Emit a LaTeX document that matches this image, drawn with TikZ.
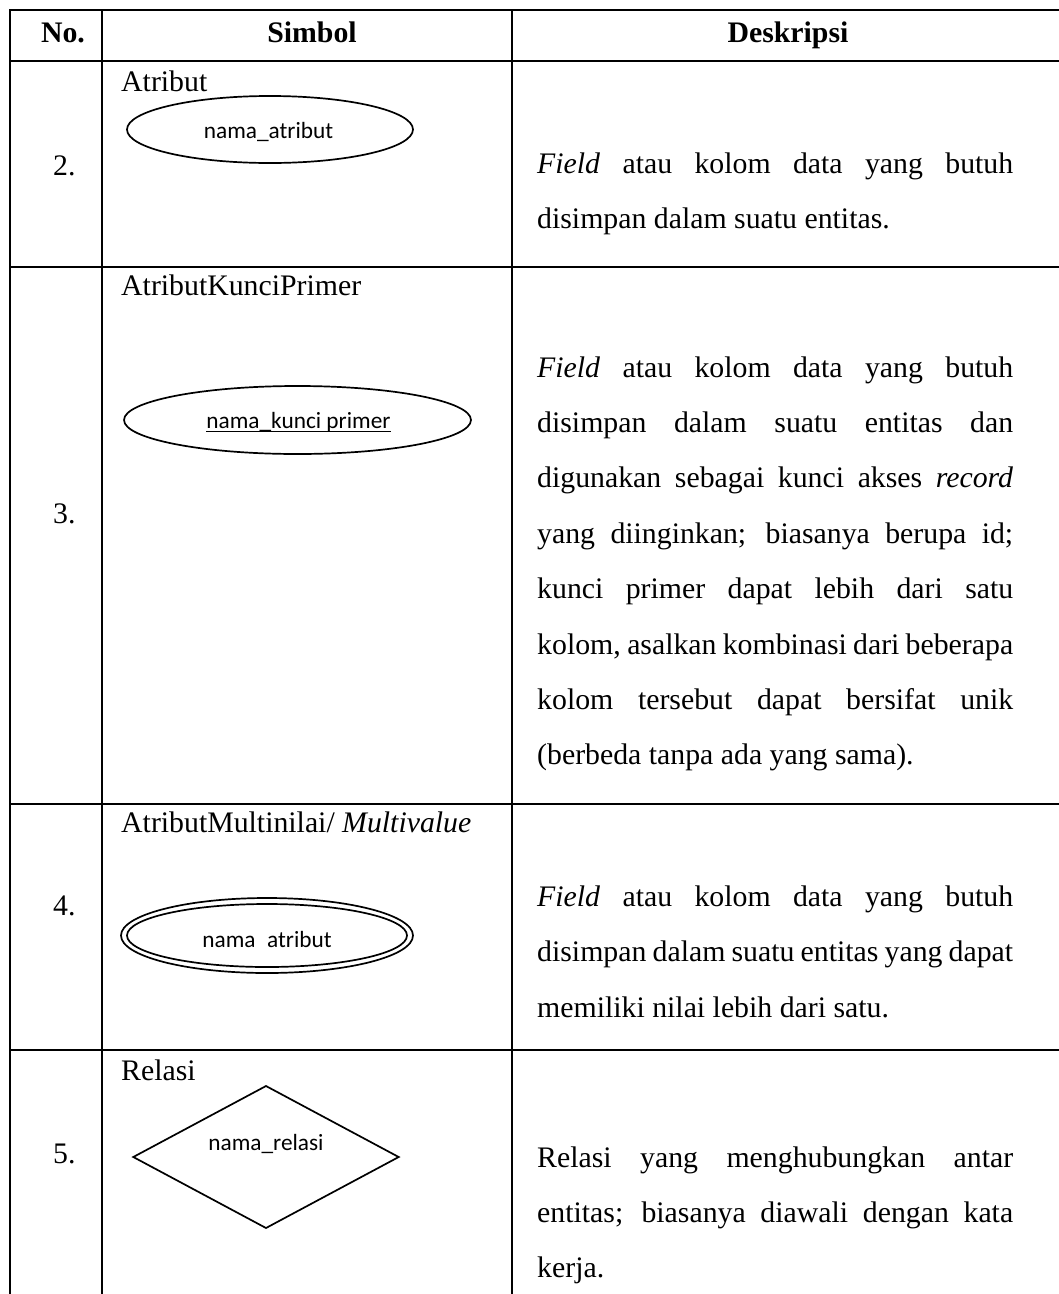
\documentclass[tikz,border=0pt]{standalone}
\usepackage{fontspec}
\setmainfont{Liberation Serif}
\newfontfamily\calib{Carlito}
\usetikzlibrary{shapes.geometric}
% one justified line of the description column
\newcommand\jl[1]{\makebox[476pt][s]{#1}}
\begin{document}
\begin{tikzpicture}[x=1pt,y=-1pt,
  grid/.style={line width=2pt},
  shapeline/.style={line width=1.7pt},
  serif/.style={inner sep=0pt, font=\fontsize{29.8pt}{36pt}\selectfont},
  head/.style={inner sep=0pt, font=\fontsize{29.8pt}{36pt}\selectfont\bfseries, anchor=base},
  lbl/.style={serif, anchor=base west},
  sym/.style={inner sep=0pt, font=\calib\fontsize{23.3pt}{28pt}\selectfont, anchor=base},
  attr/.style={ellipse, draw, shapeline, inner sep=0pt}]
\useasboundingbox (0,0) rectangle (1059,1294);

% table rules
\draw[grid] (9,10) -- (1059,10);
\draw[grid] (9,61) -- (1059,61);
\draw[grid] (9,266.5) -- (1059,266.5);
\draw[grid] (9,803.5) -- (1059,803.5);
\draw[grid] (9,1050) -- (1059,1050);
\draw[grid] (10,9) -- (10,1294);
\draw[grid] (102,9) -- (102,1294);
\draw[grid] (512,9) -- (512,1294);

% header
\node[head] (hno) at (63,42) {No.};
\node[head] (hsim) at (312,42) {Simbol};
\node[head] (hdes) at (788,42) {Deskripsi};

% row 2: attribute
\node[lbl] (n2) at (53,175) {2.};
\node[lbl] (l2) at (121,91) {Atribut};
\node[attr, minimum width=286pt, minimum height=67pt] (e2) at (270,129.5) {};
\node[sym] (t2) at (268.5,138) {nama\_atribut};
\node[lbl] (d2a) at (537,173.3) {\jl{\textit{Field} atau kolom data yang butuh}};
\node[lbl] (d2b) at (537,228.5) {disimpan dalam suatu entitas.};

% row 3: primary key attribute
\node[lbl] (n3) at (53,523) {3.};
\node[lbl] (l3) at (121,295) {AtributKunciPrimer};
\node[attr, minimum width=347pt, minimum height=68pt] (e3) at (297.5,420) {};
\node[sym] (t3) at (298.5,428) {nama\_kunci primer};
\draw[line width=1.3pt] ([yshift=-3.5pt]t3.base west) -- ([yshift=-3.5pt]t3.base east);
\node[lbl] (d3a) at (537,377.0) {\jl{\textit{Field} atau kolom data yang butuh}};
\node[lbl] (d3b) at (537,432.4) {\jl{disimpan dalam suatu entitas dan}};
\node[lbl] (d3c) at (537,487.8) {\jl{digunakan sebagai kunci akses \textit{record}}};
\node[lbl] (d3d) at (537,543.2) {\jl{yang diinginkan; biasanya berupa id;}};
\node[lbl] (d3e) at (537,598.6) {\jl{kunci primer dapat lebih dari satu}};
\node[lbl] (d3f) at (537,654.0) {\jl{kolom, asalkan kombinasi dari beberapa}};
\node[lbl] (d3g) at (537,709.4) {\jl{kolom tersebut dapat bersifat unik}};
\node[lbl] (d3h) at (537,764.8) {(berbeda tanpa ada yang sama).};

% row 4: multivalued attribute
\node[lbl] (n4) at (53,915) {4.};
\node[lbl] (l4) at (121,832) {AtributMultinilai/ \textit{Multivalue}};
\node[attr, minimum width=292pt, minimum height=75pt] (e4o) at (267,935.5) {};
\node[attr, minimum width=280pt, minimum height=63pt] (e4i) at (267,935.5) {};
\node[sym] (t4) at (267,947) {nama\phantom{\_}atribut};
\node[lbl] (d4a) at (537,906) {\jl{\textit{Field} atau kolom data yang butuh}};
\node[lbl] (d4b) at (537,961.5) {\jl{disimpan dalam suatu entitas yang dapat}};
\node[lbl] (d4c) at (537,1017) {memiliki nilai lebih dari satu.};

% row 5: relationship
\node[lbl] (n5) at (53,1163) {5.};
\node[lbl] (l5) at (121,1080) {Relasi};
\coordinate (rw) at (133.3,1157);
\coordinate (rn) at (266,1086);
\coordinate (re) at (398.7,1157);
\coordinate (rs) at (266,1228);
\draw[shapeline, line join=miter] (rw) -- (rn) -- (re) -- (rs) -- cycle;
\node[sym] (t5) at (266,1150) {nama\_relasi};
\node[lbl] (d5a) at (537,1167) {\jl{Relasi yang menghubungkan antar}};
\node[lbl] (d5b) at (537,1222.4) {\jl{entitas; biasanya diawali dengan kata}};
\node[lbl] (d5c) at (537,1277.8) {kerja.};
\end{tikzpicture}
\end{document}
